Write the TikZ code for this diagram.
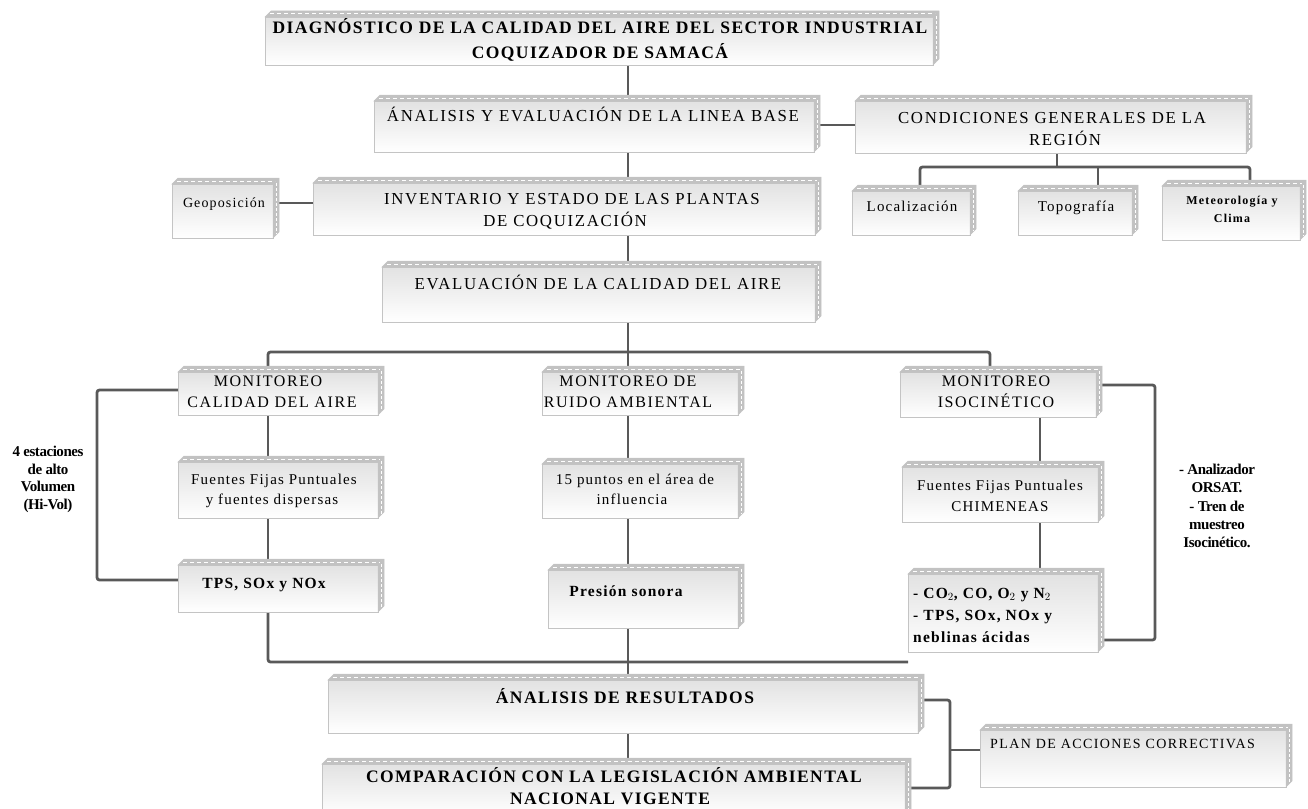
\documentclass[tikz,border=0pt]{standalone}
\usepackage{fontspec}
\setmainfont{Liberation Serif}
\newfontfamily\fsp[LetterSpace=10]{Liberation Serif}
\newfontfamily\fspb[LetterSpace=8]{Liberation Serif}
\newfontfamily\fcond[LetterSpace=-3]{Liberation Serif}
\usetikzlibrary{backgrounds}
\definecolor{lin}{HTML}{595959}
\definecolor{face}{HTML}{C2C2C2}
\definecolor{edge}{HTML}{C4C4C4}
\definecolor{topg}{HTML}{E2E2E2}
\tikzset{
 front/.style={draw=edge, line width=0.8pt, top color=topg, bottom color=white, inner sep=0pt, outer sep=0pt},
 conn/.style={draw=lin, line width=2.8pt, rounded corners=2.5pt},
 lbl/.style={anchor=base, inner sep=0pt, text=black},
 tT/.style={lbl, font=\fspb\bfseries\fontsize{17.5}{20}\selectfont},
 tC/.style={lbl, font=\fsp\fontsize{16.8}{20}\selectfont},
 tM/.style={lbl, font=\fsp\fontsize{16}{20}\selectfont},
 tL/.style={lbl, font=\fspb\fontsize{15}{18}\selectfont},
 tG/.style={lbl, font=\fspb\fontsize{14}{18}\selectfont},
 tS/.style={lbl, font=\fsp\bfseries\fontsize{12}{14}\selectfont},
 tB/.style={lbl, font=\fspb\bfseries\fontsize{15.5}{18}\selectfont},
 tBl/.style={tB, anchor=base west},
 tP/.style={lbl, anchor=base west, font=\fsp\fontsize{14}{17}\selectfont},
 tA/.style={lbl, font=\fcond\bfseries\fontsize{15}{17}\selectfont},
}
\newcommand\cbox[5]{%
  \pgfmathsetmacro\cbw{#4-#2}%
  \pgfmathsetmacro\cbh{#5-#3}%
  \node[front, minimum width=\cbw pt, minimum height=\cbh pt] (#1) at ({(#2+#4)/2},{(#3+#5)/2}) {};
  \filldraw[fill=face, draw=edge, line width=0.5pt] (#1.north west) -- ++(6pt,6pt) -- ([shift={(6pt,6pt)}]#1.north east) -- ([shift={(6pt,6pt)}]#1.south east) -- (#1.south east) -- (#1.north east) -- cycle;
  \draw[white, line width=1pt, dash pattern=on 4pt off 3pt] ([shift={(5pt,3pt)}]#1.north west) -- ([shift={(2pt,3pt)}]#1.north east);
  \draw[white, line width=0.8pt, dash pattern=on 3pt off 2pt] ([shift={(3pt,1pt)}]#1.north east) -- ([shift={(3pt,4pt)}]#1.south east);
}
\newcommand\tl[5]{\node[#4] (#1) at (#2,#3) {#5};}
\begin{document}
\begin{tikzpicture}[x=1pt,y=-1pt]
\useasboundingbox (0,0) rectangle (1308,808);
% boxes
\cbox{title}{265}{17}{933}{65}
\cbox{ana}{374}{101}{814}{152}
\cbox{cond}{855}{101}{1246}{153}
\cbox{geo}{172}{184}{273}{238}
\cbox{inv}{313}{183}{815}{235}
\cbox{loc}{852}{191}{970}{235}
\cbox{topo}{1018}{191}{1132}{235}
\cbox{met}{1162}{186}{1300}{240}
\cbox{eval}{382}{267}{815}{322}
\cbox{mca}{178}{372}{378}{415}
\cbox{mru}{542}{372}{738}{415}
\cbox{mis}{900}{372}{1096}{417}
\cbox{ffp}{178}{462}{378}{518}
\cbox{pun}{542}{464}{738}{518}
\cbox{chi}{902}{467}{1098}{522}
\cbox{tps}{178}{565}{378}{612}
\cbox{pre}{548}{570}{738}{628}
\cbox{co2}{908}{574}{1098}{652}
\cbox{res}{328}{680}{918}{733}
\cbox{comp}{322}{764}{905}{815}
\cbox{plan}{980}{730}{1286}{787}
% texts
\tl{t1a}{600}{33.8}{tT}{DIAGNÓSTICO DE LA CALIDAD DEL AIRE DEL SECTOR INDUSTRIAL}
\tl{t1b}{600}{58.8}{tT}{COQUIZADOR DE SAMACÁ}
\tl{t2}{593}{121.5}{tC}{ÁNALISIS Y EVALUACIÓN DE LA LINEA BASE}
\tl{t3a}{1052}{123.5}{tC}{CONDICIONES GENERALES DE LA}
\tl{t3b}{1065}{145.5}{tC}{REGIÓN}
\tl{t4}{224}{207.5}{tG}{Geoposición}
\tl{t5a}{572}{204.5}{tC}{INVENTARIO Y ESTADO DE LAS PLANTAS}
\tl{t5b}{565}{226.5}{tC}{DE COQUIZACIÓN}
\tl{t6}{912}{211.5}{tL}{Localización}
\tl{t7}{1076}{211.5}{tL}{Topografía}
\tl{t8a}{1232}{204.5}{tS}{Meteorología y}
\tl{t8b}{1232}{222.5}{tS}{Clima}
\tl{t9}{598}{289.5}{tC}{EVALUACIÓN DE LA CALIDAD DEL AIRE}
\tl{t10a}{268}{386.3}{tM}{MONITOREO}
\tl{t10b}{272}{407.3}{tM}{CALIDAD DEL AIRE}
\tl{t11a}{628}{386.3}{tM}{MONITOREO DE}
\tl{t11b}{628}{407.3}{tM}{RUIDO AMBIENTAL}
\tl{t12a}{996}{386.3}{tM}{MONITOREO}
\tl{t12b}{996}{407.3}{tM}{ISOCINÉTICO}
\tl{t13a}{274}{484.5}{tL}{Fuentes Fijas Puntuales}
\tl{t13b}{272}{504.5}{tL}{y fuentes dispersas}
\tl{t14a}{635}{484.5}{tL}{15 puntos en el área de}
\tl{t14b}{632}{504.5}{tL}{influencia}
\tl{t15a}{1000}{490.5}{tL}{Fuentes Fijas Puntuales}
\tl{t15b}{1000}{511}{tL}{CHIMENEAS}
\tl{t16}{264}{588}{tB}{TPS, SOx y NOx}
\tl{t17}{626}{596}{tB}{Presión sonora}
\tl{t18a}{913}{598}{tBl}{- CO$_2$, CO, O$_2$ y N$_2$}
\tl{t18b}{913}{620}{tBl}{- TPS, SOx, NOx y}
\tl{t18c}{913}{642}{tBl}{neblinas ácidas}
\tl{t19}{625}{703.8}{tT}{ÁNALISIS DE RESULTADOS}
\tl{t20a}{614}{782.8}{tT}{COMPARACIÓN CON LA LEGISLACIÓN AMBIENTAL}
\tl{t20b}{610}{804.8}{tT}{NACIONAL VIGENTE}
\tl{t21}{990}{748.6}{tP}{PLAN DE ACCIONES CORRECTIVAS}
\tl{a1}{48}{456.5}{tA}{4 estaciones}
\tl{a2}{48}{474}{tA}{de alto}
\tl{a3}{48}{491.5}{tA}{Volumen}
\tl{a4}{48}{509}{tA}{(Hi-Vol)}
\tl{b1}{1217}{474.5}{tA}{- Analizador}
\tl{b2}{1217}{492.5}{tA}{ORSAT.}
\tl{b3}{1217}{511}{tA}{- Tren de}
\tl{b4}{1217}{529}{tA}{muestreo}
\tl{b5}{1217}{547.5}{tA}{Isocinético.}
% helper coordinates
\coordinate (xc) at (628,0);
\coordinate (ya) at (0,125);
\coordinate (yg) at (0,203);
\coordinate (cj) at (1057,167);
\coordinate (xl) at (920,0);
\coordinate (xt) at (1098,0);
\coordinate (xm) at (1250,0);
\coordinate (hy) at (0,352);
\coordinate (xa) at (268,0);
\coordinate (xi) at (990,0);
\coordinate (xb) at (97,0);
\coordinate (y1) at (0,390);
\coordinate (y2) at (0,580);
\coordinate (by) at (0,662);
\coordinate (xr) at (1040,0);
\coordinate (xq) at (1155,0);
\coordinate (y3) at (0,385);
\coordinate (y4) at (0,640);
\coordinate (xp) at (950,0);
\coordinate (y5) at (0,700);
\coordinate (y6) at (0,788);
\coordinate (y7) at (0,750);
\begin{pgfonlayer}{background}
\draw[conn] (title.south -| xc) -- (ana.north -| xc);
\draw[conn] (ana.south -| xc) -- (inv.north -| xc);
\draw[conn] (inv.south -| xc) -- (eval.north -| xc);
\draw[conn] (ana.east |- ya) -- (cond.west |- ya);
\draw[conn] (geo.east |- yg) -- (inv.west |- yg);
\draw[conn] (cond.south -| cj) -- (cj);
\draw[conn] (loc.north -| xl) -- (cj -| xl) -- (cj -| xm) -- (met.north -| xm);
\draw[conn] (topo.north -| xt) -- (cj -| xt);
\draw[conn] (eval.south -| xc) -- (hy -| xc) -- (mru.north -| xc);
\draw[conn] (mca.north -| xa) -- (hy -| xa) -- (hy -| xi) -- (mis.north -| xi);
\draw[conn] (mca.west |- y1) -| (xb |- y2) -- (tps.west |- y2);
\draw[conn] (mca.south -| xa) -- (ffp.north -| xa);
\draw[conn] (ffp.south -| xa) -- (tps.north -| xa);
\draw[conn] (tps.south -| xa) |- (co2.west |- by);
\draw[conn] (mru.south -| xc) -- (pun.north -| xc);
\draw[conn] (pun.south -| xc) -- (pre.north -| xc);
\draw[conn] (pre.south -| xc) -- (res.north -| xc);
\draw[conn] (mis.south -| xr) -- (chi.north -| xr);
\draw[conn] (chi.south -| xr) -- (co2.north -| xr);
\draw[conn] (mis.east |- y3) -| (xq |- y4) -- (co2.east |- y4);
\draw[conn] (res.south -| xc) -- (comp.north -| xc);
\draw[conn] (res.east |- y5) -| (xp |- y6) -- (comp.east |- y6);
\draw[conn] (xp |- y7) -- (plan.west |- y7);
\end{pgfonlayer}
\end{tikzpicture}
\end{document}
